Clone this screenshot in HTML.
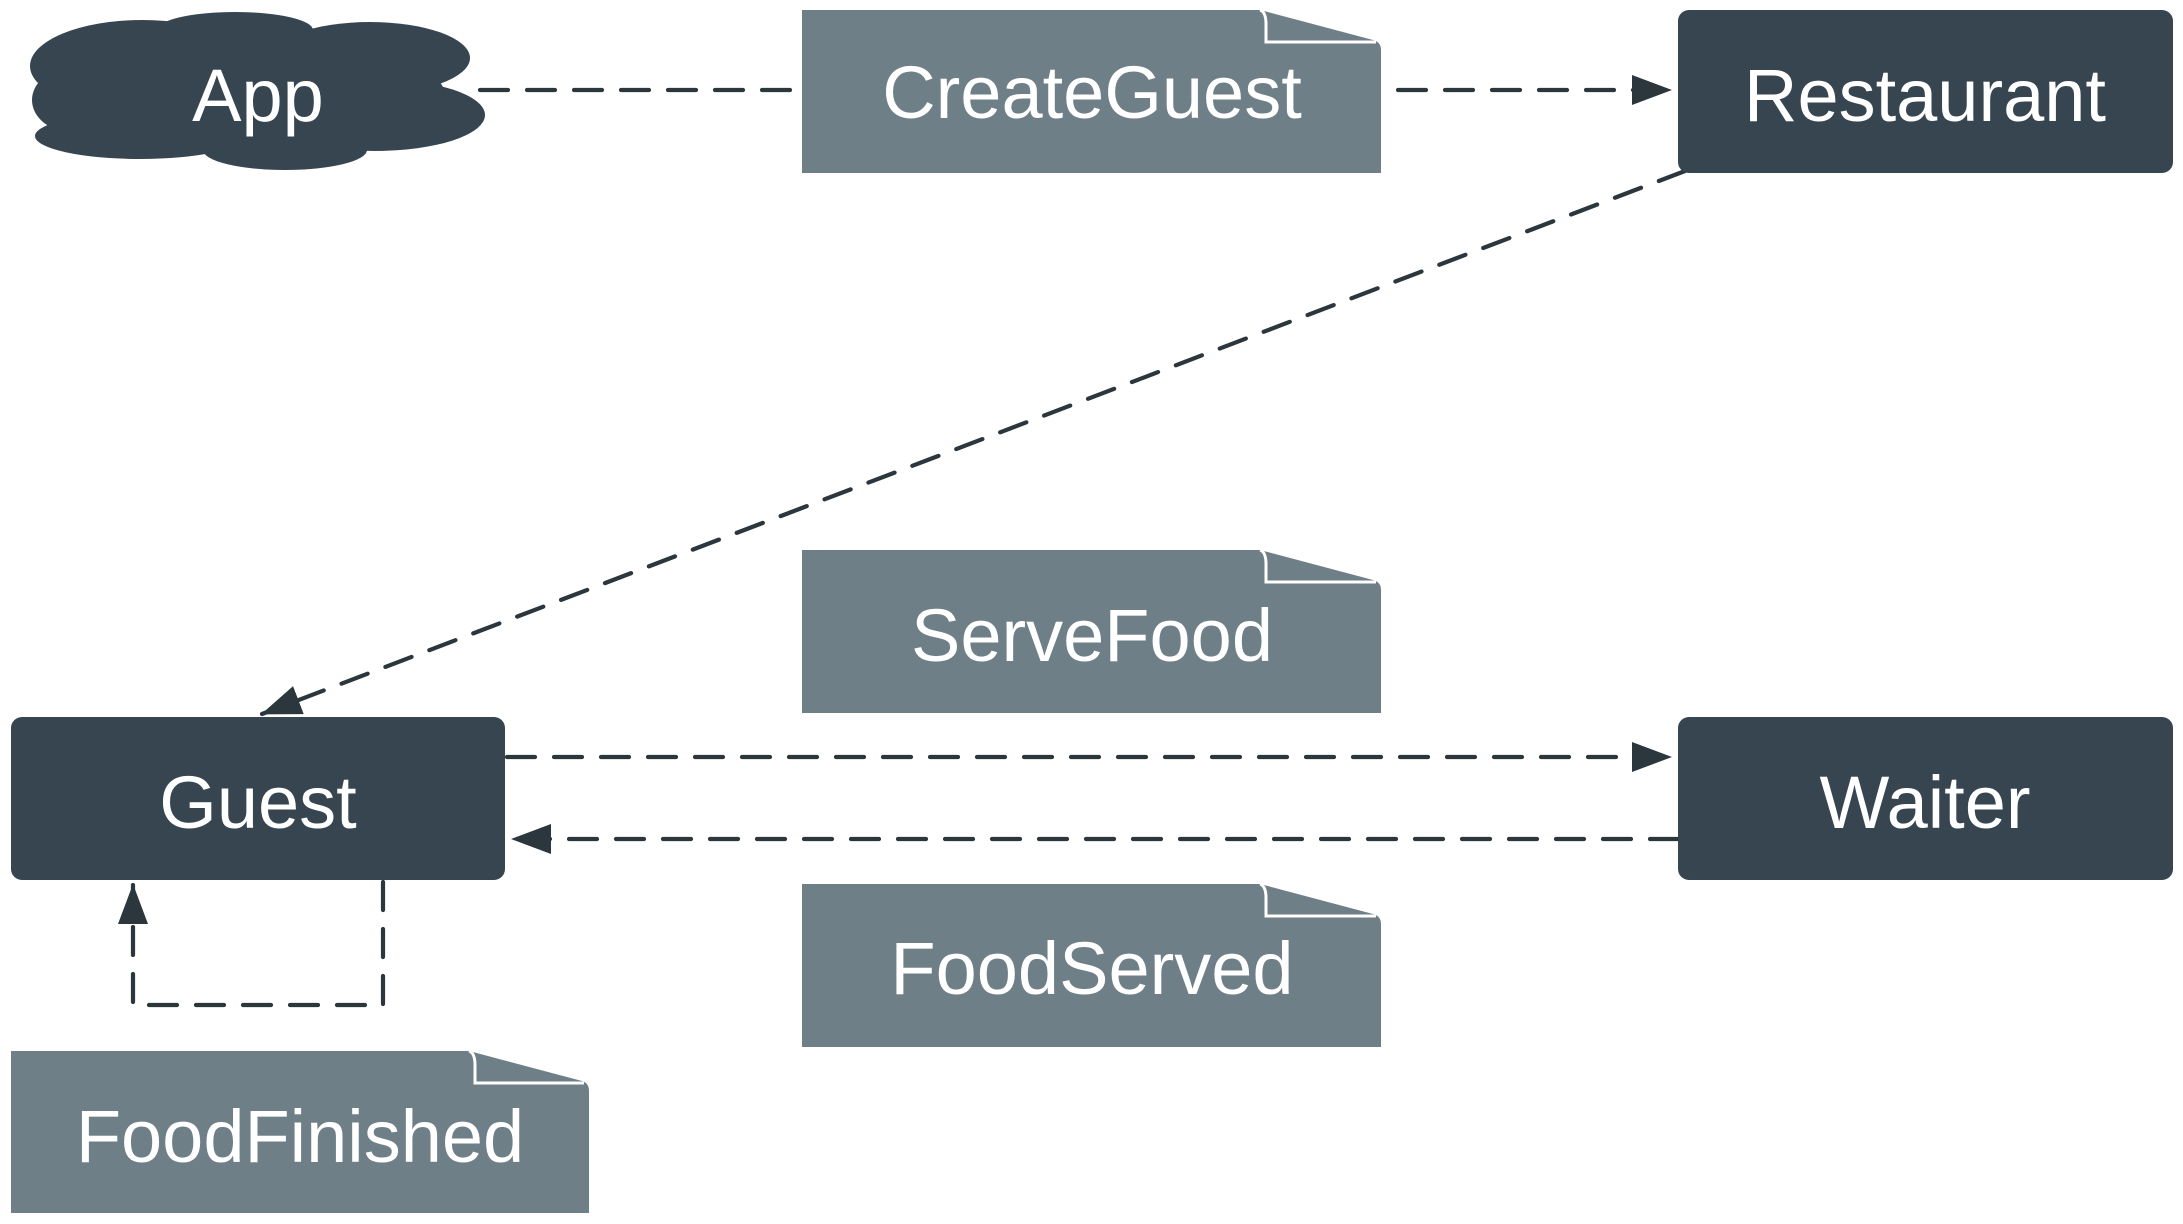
<!DOCTYPE html>
<html><head><meta charset="utf-8"><style>
html,body{margin:0;padding:0;background:#fff}
svg{display:block}
text{font-family:"Liberation Sans",Arial,sans-serif;fill:#fff;font-size:74px;text-anchor:middle}
</style></head><body>
<svg width="2183" height="1224" viewBox="0 0 2183 1224" xmlns="http://www.w3.org/2000/svg">
<defs>
<marker id="ah" markerWidth="40" markerHeight="32" refX="39" refY="15" orient="auto" markerUnits="userSpaceOnUse">
<path d="M0,0 L40,15 L0,30 Z" fill="#2b363d"/>
</marker>
</defs>
<g fill="none" stroke="#2b363d" stroke-width="4.2" stroke-dasharray="28 19" stroke-linecap="round">
<path d="M480,90 H790"/>
<path d="M1398,90 H1671" marker-end="url(#ah)"/>
<path d="M1685,171 L262,714" marker-end="url(#ah)"/>
<path d="M507,757 H1671" marker-end="url(#ah)"/>
<path d="M1678,839 H512" marker-end="url(#ah)"/>
<path d="M383,882 V1005 H133 V885" marker-end="url(#ah)"/>
</g>
<!-- cloud -->
<g fill="#36454f">
<ellipse cx="142" cy="66" rx="112" ry="46"/>
<ellipse cx="235" cy="30" rx="78" ry="18"/>
<ellipse cx="370" cy="58" rx="100" ry="36"/>
<ellipse cx="375" cy="115" rx="110" ry="36"/>
<ellipse cx="285" cy="150" rx="82" ry="20"/>
<ellipse cx="140" cy="136" rx="105" ry="23"/>
<ellipse cx="72" cy="100" rx="40" ry="32"/>
<ellipse cx="255" cy="95" rx="190" ry="55"/>
</g>
<text x="258" y="121">App</text>
<!-- notes -->
<g fill="#6f7f87">
<path d="M802,10 H1260 L1373,40 Q1381,42 1381,50 V173 H802 Z"/>
<path d="M802,550 H1260 L1373,580 Q1381,582 1381,590 V713 H802 Z"/>
<path d="M802,884 H1260 L1373,914 Q1381,916 1381,924 V1047 H802 Z"/>
<path d="M11,1051 H469 L582,1081 Q589,1083 589,1091 V1213 H11 Z"/>
</g>
<g fill="none" stroke="#fff" stroke-width="3">
<path d="M1260,10 Q1266,12 1266,24 V42 H1376"/>
<path d="M1260,550 Q1266,552 1266,564 V582 H1376"/>
<path d="M1260,884 Q1266,886 1266,898 V916 H1376"/>
<path d="M469,1051 Q475,1053 475,1065 V1083 H584"/>
</g>
<text x="1092" y="118">CreateGuest</text>
<text x="1092" y="661">ServeFood</text>
<text x="1092" y="994">FoodServed</text>
<text x="300" y="1162">FoodFinished</text>
<!-- boxes -->
<g fill="#36454f">
<rect x="1678" y="10" width="495" height="163" rx="11"/>
<rect x="11" y="717" width="494" height="163" rx="11"/>
<rect x="1678" y="717" width="495" height="163" rx="11"/>
</g>
<text x="1925" y="121">Restaurant</text>
<text x="258" y="828">Guest</text>
<text x="1925" y="828">Waiter</text>
</svg>
</body></html>
